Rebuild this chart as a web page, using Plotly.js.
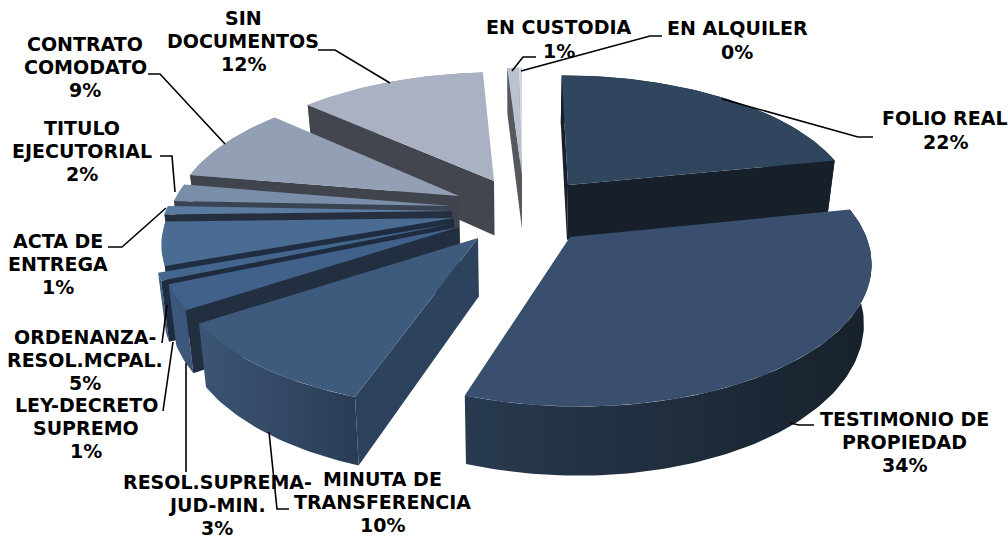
<!DOCTYPE html>
<html><head><meta charset="utf-8">
<script src="https://cdn.plot.ly/plotly-3.0.1.min.js"></script>
<style>html,body{margin:0;padding:0;background:#fff}#c{width:1008px;height:540px}</style>
</head><body><div id="c"></div>
<script>
// ---- data ----
const categories = ["FOLIO REAL","TESTIMONIO DE<br>PROPIEDAD","MINUTA DE<br>TRANSFERENCIA","RESOL.SUPREMA-<br>JUD-MIN.","LEY-DECRETO<br>SUPREMO","ORDENANZA-<br>RESOL.MCPAL.","ACTA DE<br>ENTREGA","TITULO<br>EJECUTORIAL","CONTRATO<br>COMODATO","SIN<br>DOCUMENTOS","EN CUSTODIA","EN ALQUILER"];
const shares = [21.8,33.5,10.49,2.9,0.9,5.0,1.0,2.06,9.0,12.4,0.75,0.2];
// ---- per-slice appearance ----
const apexX = [568,570,478,459,451,454,452,452,459,494,522,522];
const apexY = [185,237,238,227,224,218,211,206,196,181,175,175];
const radiusScale = [1,0.99,1,0.985,0.985,0.98,0.985,0.97,0.985,0.995,1,1];
const topColor = ["#30465f","#3a4f6d","#3e5a7c","#41618a","#44668e","#4a6b92","#5c7ba0","#7a8da9","#929fb4","#a9b1c2","#b9c3d0","#d5dae2"];
const sideColor = ["#161f2a","#1c2a3a","#2d435d","#222f40","#1f2c3f","#1f2d41","#252f40","#3a4352","#40444c","#43464e","#55585e","#6a6d73"];
const arcLeft = ["#1b2632","#283a50","#3c5574","#3c5a7e","#3f5f85","#44648b","#4c6c92","#6b7d98","#7b8798","#8b93a3","#8d94a0","#a0a5ad"];
const arcRight = ["#141c26","#17212b","#2a3c54","#3a567a","#3c5b80","#44648b","#4c6c92","#6b7d98","#7b8798","#8b93a3","#8d94a0","#a0a5ad"];
const labelX = [945,904,382,217,86,85,58,82,85,243,559,737];
const labelY = [130,442,502,505,428,360,264,151,67,41,39,40];
const leaderX = [[722,858,873],[790,799,814],[269,277,289],[186,186],[173,163],[167,162],[166,122,108],[175,172,160],[225,160,148],[390,335,318],[512,523,536],[521,650,662]];
const leaderY = [[99,137,137],[423,425,425],[432,509,509],[363,472],[342,411],[305,343],[208,247,247],[192,156,156],[144,74,74],[83,50,50],[71,57,57],[71,36,36]];
// ---- projection settings ----
const xc=520, yc=236, Rx=299, Ry=142, persp=0.16, depth=58, baseShrink=0.978, lineGap=23.3;

function proj(X,V){const s=1/(1+persp*V),x=xc+X*s,y=yc-Ry*V*s;return {x,y,bx:xc+(x-xc)*baseShrink,b:y+depth*s};}
function ground(ax,ay){const t=(yc-ay)/Ry,V=t/(1-persp*t),s=1/(1+persp*V);return {X:(ax-xc)/s,V};}

const total = shares.reduce((a,b)=>a+b,0);
let acc=0;
const slices = shares.map((v,i)=>{
  const a0=acc/total*2*Math.PI; acc+=v; const a1=acc/total*2*Math.PI;
  return {i,a0,a1,mid:(a0+a1)/2};
});
const pctText = i=>Math.round(shares[i]/total*100)+'%';
function poly(xs,ys,fill,grad,name){
  const t={type:'scatter',mode:'lines',x:xs,y:ys,fill:'toself',line:{width:0},hoverinfo:name?'text':'skip',text:name||'',showlegend:false};
  if(grad) t.fillgradient={type:'horizontal',colorscale:[[0,grad[0]],[1,grad[1]]]};
  else t.fillcolor=fill;
  return t;
}
const traces=[];
[...slices].sort((p,q)=>Math.cos(q.mid)-Math.cos(p.mid)).forEach(sl=>{
  const i=sl.i, g=ground(apexX[i],apexY[i]), r=Rx*radiusScale[i];
  const A=proj(g.X,g.V);
  const pt=a=>proj(g.X+r*Math.sin(a),g.V+Math.cos(a));
  const n=Math.max(4,Math.ceil((sl.a1-sl.a0)/0.02));
  const arc=[];for(let k=0;k<=n;k++)arc.push(pt(sl.a0+(sl.a1-sl.a0)*k/n));
  traces.push(poly(arc.map(p=>p.x).concat(arc.map(p=>p.bx).reverse()),arc.map(p=>p.y).concat(arc.map(p=>p.b).reverse()),null,[arcLeft[i],arcRight[i]]));
  const wall=P=>traces.push(poly([A.x,P.x,P.bx,A.bx,A.x],[A.y,P.y,P.b,A.b,A.y],sideColor[i]));
  if(Math.sin(sl.a0)<=1e-6) wall(arc[0]);
  if(Math.sin(sl.a1)>1e-6) wall(arc[n]);
  traces.push(poly([A.x].concat(arc.map(p=>p.x),[A.x]),[A.y].concat(arc.map(p=>p.y),[A.y]),topColor[i],null,categories[i].replace('<br>',' ')+': '+pctText(i)));
});
leaderX.forEach((lx,i)=>traces.push({type:'scatter',mode:'lines',x:lx,y:leaderY[i],line:{color:'#000',width:1.6},hoverinfo:'skip',showlegend:false}));

const annotations=[];
categories.forEach((c,i)=>{
  const lines=c.split('<br>').concat([pctText(i)]);
  lines.forEach((ln,k)=>annotations.push({
    xref:'x',yref:'y',x:labelX[i],y:labelY[i]+(k-(lines.length-1)/2)*lineGap,xanchor:'center',yanchor:'middle',align:'center',showarrow:false,
    text:'<b>'+ln+'</b>',
    font:{family:'"DejaVu Sans",Verdana,sans-serif',size:19,color:'#000'}
  }));
});
Plotly.newPlot('c',traces,{
  width:1008,height:540,margin:{l:0,r:0,t:0,b:0},paper_bgcolor:'#fff',plot_bgcolor:'#fff',showlegend:false,
  xaxis:{range:[0,1008],visible:false,fixedrange:true},
  yaxis:{range:[540,0],visible:false,fixedrange:true},
  annotations
},{displayModeBar:false});
</script></body></html>
